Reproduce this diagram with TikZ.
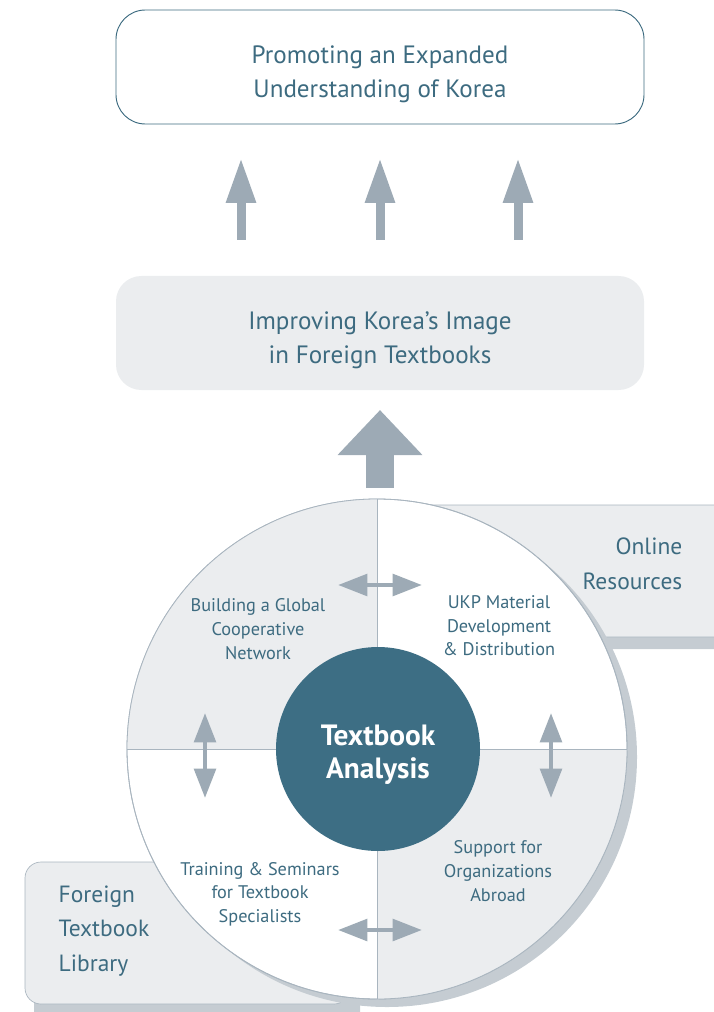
\documentclass[tikz,border=0pt]{standalone}
\usepackage{fontspec}
\setmainfont{PT Sans}
\usetikzlibrary{arrows.meta}
\definecolor{ink}{HTML}{3D6B80}
\definecolor{hubblue}{HTML}{3D6E84}
\definecolor{pale}{HTML}{EBEDEF}
\definecolor{shadowgrey}{HTML}{C5CCD2}
\definecolor{arrowgrey}{HTML}{9DAAB5}
\definecolor{rim}{HTML}{A9B5BF}
\tikzset{
  >={Triangle},
}
\tikzstyle{goalbox}=[draw=ink,line width=0.7pt,rounded corners=22pt,minimum width=396pt,minimum height=85.5pt,inner sep=0pt,text=ink,align=center,font=\fontsize{18.8}{25.5}\selectfont]
\tikzstyle{stepbox}=[fill=pale,rounded corners=19pt,minimum width=396pt,minimum height=85.5pt,inner sep=0pt,text=ink,align=center,font=\fontsize{18.8}{25.5}\selectfont]
\tikzstyle{sidebox}=[fill=pale,draw=rim,line width=0.5pt]
\tikzstyle{sidetext}=[text=ink,font=\fontsize{17.6}{26}\selectfont]
\tikzstyle{quadtext}=[text=ink,align=center,font=\fontsize{13.7}{17.7}\selectfont]
\tikzstyle{hub}=[circle,fill=hubblue,minimum size=153pt,inner sep=0pt,text=white,align=center,font=\fontsize{22}{25}\selectfont\bfseries]
\tikzstyle{liftarrow}=[arrowgrey,line width=6.75pt,-{Triangle[length=33.75pt,width=21pt]}]
\tikzstyle{bigarrow}=[arrowgrey,line width=21pt,-{Triangle[length=33.75pt,width=61.5pt]}]
\tikzstyle{twoway}=[arrowgrey,line width=3.5pt,{Triangle[length=22pt,width=16pt]}-{Triangle[length=22pt,width=16pt]}]

\begin{document}
\begin{tikzpicture}[x=0.75pt,y=-0.75pt]
  \useasboundingbox (0,0) rectangle (713,1012);
  \node[goalbox] (goal) at (380,67) {};
  \node[text=ink,align=center,font=\fontsize{18.8}{25.5}\selectfont] (goaltext) at (380,74) {Promoting an Expanded\\Understanding of Korea};
  \node[stepbox] (image) at (380,333) {};
  \node[text=ink,align=center,font=\fontsize{18.8}{25.5}\selectfont] (imagetext) at (380,340) {Improving Korea’s Image\\in Foreign Textbooks};
  \foreach \x [count=\i] in {241,380,518} {
    \coordinate (lo\i) at (\x,240);
    \coordinate (hi\i) at (\x,158);
    \draw[liftarrow] (lo\i) -- (hi\i);
  }
  \coordinate (b0) at (380,488);
  \coordinate (b1) at (380,410);
  \draw[bigarrow] (b0) -- (b1);

  \fill[shadowgrey,rounded corners=16pt] (389,517) rectangle (760,649);
  \filldraw[sidebox,rounded corners=16pt] (380,505) rectangle (750,637);
  \fill[shadowgrey,rounded corners=12pt] (34,872) rectangle (360,1030);
  \filldraw[sidebox,rounded corners=12pt] (25,862) rectangle (350,1004);

  \fill[shadowgrey] (387,757) circle (250);
  \filldraw[fill=white,draw=rim,line width=0.6pt] (377,749) circle (250);
  \fill[pale] (377,749) -- (127,749) arc[start angle=180,end angle=270,radius=250] -- cycle;
  \fill[pale] (377,749) -- (627,749) arc[start angle=0,end angle=90,radius=250] -- cycle;
  \draw[rim,line width=0.6pt] (377,749) circle (250);
  \draw[rim,line width=0.6pt] (127,749) -- (627,749);
  \draw[rim,line width=0.6pt] (377,499) -- (377,999);
  \node[hub] (core) at (378,749) {};
  \node[text=white,align=center,font=\fontsize{22}{25}\selectfont\bfseries] (coretext) at (378,755) {Textbook\\Analysis};

  \node[quadtext] (network) at (258,629) {Building a Global\\Cooperative\\Network};
  \node[quadtext] (material) at (499,626) {UKP Material\\Development\\\& Distribution};
  \node[quadtext] (training) at (260,894) {Training \& Seminars\\for Textbook\\Specialists};
  \node[quadtext] (support) at (498,871) {Support for\\Organizations\\Abroad};
  \node[sidetext,align=right,anchor=east] (online) at (687,564) {Online\\Resources};
  \node[sidetext,align=left,anchor=west] (library) at (54,931) {Foreign\\Textbook\\Library};

  \coordinate (t0) at (338,585);
  \coordinate (t1) at (422,585);
  \coordinate (r0) at (551,713);
  \coordinate (r1) at (551,798);
  \coordinate (d0) at (338,930);
  \coordinate (d1) at (422,930);
  \coordinate (l0) at (205,713);
  \coordinate (l1) at (205,798);
  \draw[twoway] (t0) -- (t1);
  \draw[twoway] (r0) -- (r1);
  \draw[twoway] (d0) -- (d1);
  \draw[twoway] (l0) -- (l1);
\end{tikzpicture}
\end{document}
